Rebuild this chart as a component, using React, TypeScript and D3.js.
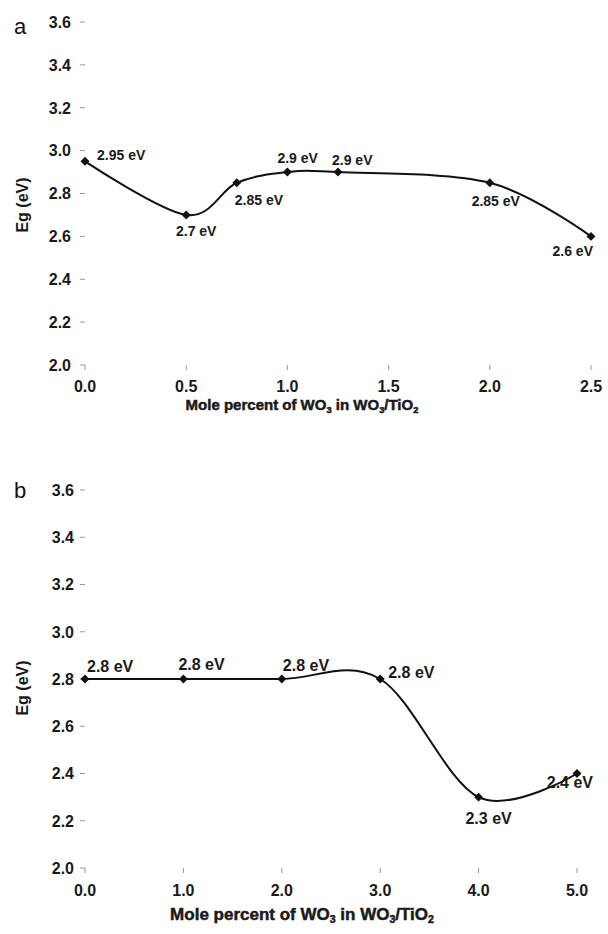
import React from "react";
import * as d3 from "d3";

// ---- Data ----
const xA = [0, 0.5, 0.75, 1.0, 1.25, 2.0, 2.5];
const egA = [2.95, 2.7, 2.85, 2.9, 2.9, 2.85, 2.6];
const labelsA = ["2.95 eV", "2.7 eV", "2.85 eV", "2.9 eV", "2.9 eV", "2.85 eV", "2.6 eV"];
const xTicksA = [0, 0.5, 1.0, 1.5, 2.0, 2.5];

const xB = [0, 1, 2, 3, 4, 5];
const egB = [2.8, 2.8, 2.8, 2.8, 2.3, 2.4];
const labelsB = ["2.8 eV", "2.8 eV", "2.8 eV", "2.8 eV", "2.3 eV", "2.4 eV"];
const xTicksB = [0, 1, 2, 3, 4, 5];

const yTicks = [2.0, 2.2, 2.4, 2.6, 2.8, 3.0, 3.2, 3.4, 3.6];

// ---- Label placement (style only) ----
const offA: [number, number, string][] = [
  [12, -1, "start"],
  [10, 21, "middle"],
  [-2, 22, "start"],
  [-10, -9.5, "start"],
  [-6, -7.5, "start"],
  [6, 23, "middle"],
  [2, 20, "end"],
];
const offB: [number, number, string][] = [
  [2, -7.5, "start"],
  [-5, -9.5, "start"],
  [1, -8.5, "start"],
  [8, -1.5, "start"],
  [10, 26.5, "middle"],
  [16, 14, "end"],
];

const FONT = "'Liberation Sans', Arial, sans-serif";

type PanelProps = {
  xs: number[];
  ys: number[];
  labels: string[];
  offs: [number, number, string][];
  xTicks: number[];
  xDomain: [number, number];
  xRange: [number, number];
  yRange: [number, number];
  letter: string;
  letterY: number;
  labelSize: number;
  titleY: number;
  titleSize: number;
  titleX: number;
  yTitleY: number;
  tickLabelRight: number;
  xLabelGap: number;
};

function Panel(p: PanelProps) {
  const x = d3.scaleLinear().domain(p.xDomain).range(p.xRange);
  const y = d3.scaleLinear().domain([2.0, 3.6]).range(p.yRange);
  const pts = p.xs.map((v, i) => [x(v), y(p.ys[i])] as [number, number]);
  const line = d3.line().curve(d3.curveCardinal.tension(0))(pts) || "";
  const diamond = d3.symbol().type(d3.symbolSquare).size(40)() || "";
  const y0 = y(2.0);
  const sub = p.titleSize * 0.62;
  return (
    <g>
      <text x={14} y={p.letterY} fontFamily={FONT} fontSize={22} fill="#111">
        {p.letter}
      </text>
      {yTicks.map((t) => (
        <g key={"y" + t}>
          <line x1={80} x2={85} y1={y(t)} y2={y(t)} stroke="#999" strokeWidth={1} />
          <text
            x={p.tickLabelRight}
            y={y(t)}
            dy="0.36em"
            textAnchor="end"
            fontFamily={FONT}
            fontWeight="bold"
            fontSize={16}
            fill="#1a1a1a"
          >
            {t.toFixed(1)}
          </text>
        </g>
      ))}
      {p.xTicks.map((t) => (
        <g key={"x" + t}>
          <line x1={x(t)} x2={x(t)} y1={y0} y2={y0 + 5} stroke="#999" strokeWidth={1} />
          <text
            x={x(t)}
            y={y0 + p.xLabelGap}
            dy="0.36em"
            textAnchor="middle"
            fontFamily={FONT}
            fontWeight="bold"
            fontSize={16}
            fill="#1a1a1a"
          >
            {t.toFixed(1)}
          </text>
        </g>
      ))}
      <text
        transform={`translate(22,${p.yTitleY}) rotate(-90)`}
        textAnchor="middle"
        dy="0.36em"
        fontFamily={FONT}
        fontWeight="bold"
        fontSize={16}
        fill="#1a1a1a"
      >
        Eg (eV)
      </text>
      <text
        x={p.titleX}
        y={p.titleY}
        textAnchor="middle"
        fontFamily={FONT}
        fontWeight="bold"
        fontSize={p.titleSize}
        fill="#1a1a1a"
        stroke="#1a1a1a"
        strokeWidth={0.5}
      >
        Mole percent of WO<tspan fontSize={sub} dy={3}>3</tspan>
        <tspan dy={-3}> in WO</tspan>
        <tspan fontSize={sub} dy={3}>3</tspan>
        <tspan dy={-3}>/TiO</tspan>
        <tspan fontSize={sub} dy={3}>2</tspan>
      </text>
      <path d={line} fill="none" stroke="#111" strokeWidth={2} />
      {pts.map(([px, py], i) => (
        <path key={"m" + i} d={diamond} transform={`translate(${px},${py}) rotate(45)`} fill="#111" />
      ))}
      {pts.map(([px, py], i) => (
        <text
          key={"l" + i}
          x={px + p.offs[i][0]}
          y={py + p.offs[i][1]}
          textAnchor={p.offs[i][2] as any}
          fontFamily={FONT}
          fontWeight="bold"
          fontSize={p.labelSize}
          fill="#1a1a1a"
        >
          {p.labels[i]}
        </text>
      ))}
    </g>
  );
}

export default function App() {
  return (
    <svg width={608} height={934} style={{ position: "absolute", left: 0, top: 0, background: "#fff" }}>
      <rect width={608} height={934} fill="#fff" />
      <Panel
        xs={xA}
        ys={egA}
        labels={labelsA}
        offs={offA}
        xTicks={xTicksA}
        xDomain={[0, 2.5]}
        xRange={[85, 591]}
        yRange={[365, 22]}
        letter="a"
        letterY={34}
        labelSize={14}
        titleY={410}
        titleSize={15}
        titleX={302}
        yTitleY={205}
        tickLabelRight={71}
        xLabelGap={21}
      />
      <Panel
        xs={xB}
        ys={egB}
        labels={labelsB}
        offs={offB}
        xTicks={xTicksB}
        xDomain={[0, 5]}
        xRange={[85, 577]}
        yRange={[868, 490]}
        letter="b"
        letterY={498}
        labelSize={16}
        titleY={920}
        titleSize={17}
        titleX={302}
        yTitleY={688}
        tickLabelRight={74}
        xLabelGap={22}
      />
    </svg>
  );
}
